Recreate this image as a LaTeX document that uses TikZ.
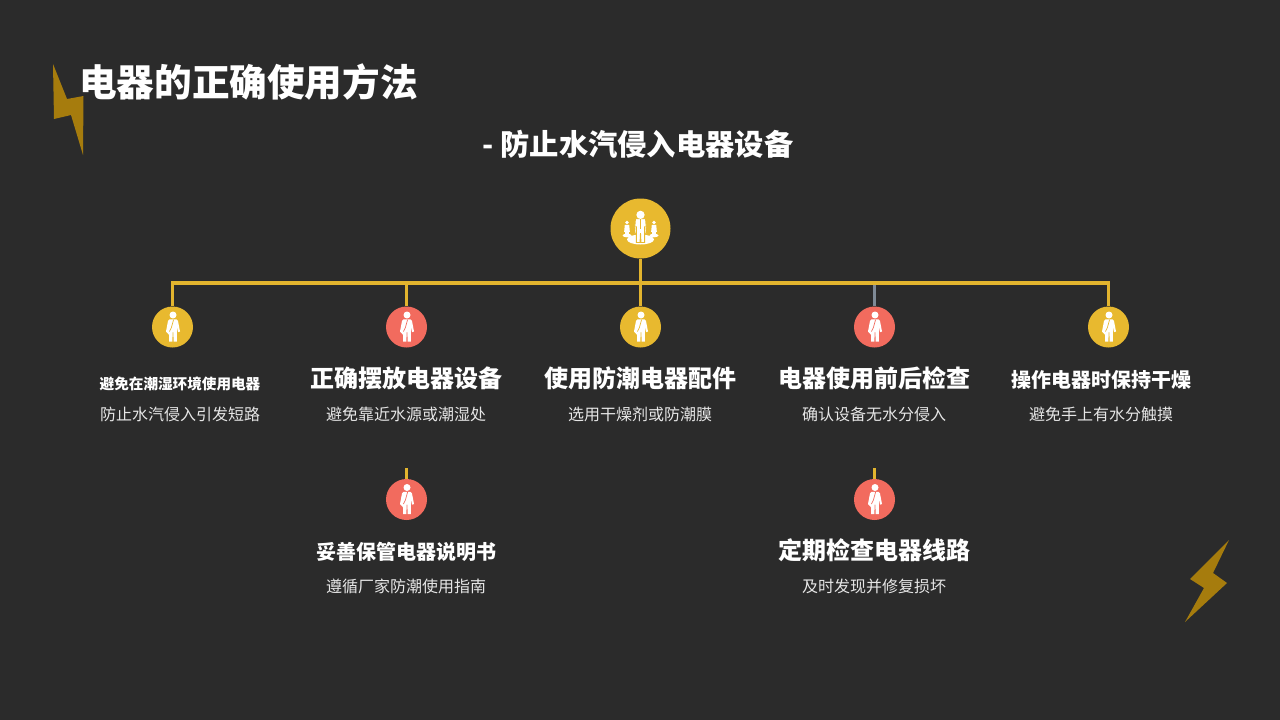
\documentclass[tikz,border=0pt]{standalone}
\usepackage{fontspec}
\setmainfont{Noto Sans CJK SC}
\definecolor{bgc}{HTML}{2B2B2B}
\definecolor{yel}{HTML}{E8B92F}
\definecolor{lin}{HTML}{E2B42E}
\definecolor{redc}{HTML}{F26B5E}
\definecolor{bolt}{HTML}{A67C0D}
\definecolor{gry}{HTML}{7F8A96}
\definecolor{txt}{HTML}{E6E6E6}
\tikzset{
  root/.style={circle,fill=yel,minimum size=60pt,inner sep=0pt},
  yelc/.style={circle,fill=yel,minimum size=41pt,inner sep=0pt},
  redcirc/.style={circle,fill=redc,minimum size=41pt,inner sep=0pt},
  conn/.style={draw=lin,line width=3.2pt},
  conng/.style={draw=gry,line width=3.2pt},
  head/.style={text=white,font=\bfseries\fontsize{24}{28}\selectfont,inner sep=0pt},
  headm/.style={text=white,font=\bfseries\fontsize{20}{24}\selectfont,inner sep=0pt},
  heads/.style={text=white,font=\bfseries\fontsize{14.6}{18}\selectfont,inner sep=0pt},
  desc/.style={text=txt,font=\fontsize{16}{20}\selectfont,inner sep=0pt},
  person/.pic={
    \fill[white] (0,-12) circle (3.5);
    \fill[white] (-3.5,-7.6) -- (3.5,-7.6) -- (5,-6) -- (7,4.5) -- (5,5.2) -- (3.8,-1) -- (3.8,14.7) -- (0.6,14.7) -- (0.4,5) -- (-0.4,5) -- (-0.6,14.7) -- (-3.8,14.7) -- (-3.8,8) -- (-7,4.5) -- (-5,-6) -- cycle;
    \draw[#1,line width=0.7pt] (0.6,-7.4) -- (-1.6,0.5) -- (-3.6,4.5);
  },
  person/.default=yel,
  smallp/.pic={
    \fill[white] (0,-11.8) circle (3.4);
    \fill[white] (-4,-7.6) -- (4,-7.6) -- (5.2,5) -- (3.4,5) -- (3.4,14) -- (-3.4,14) -- (-3.4,5) -- (-5.2,5) -- cycle;
  }
}
\begin{document}
\begin{tikzpicture}[x=1pt,y=-1pt]
\useasboundingbox (0,0) rectangle (1280,720);
\fill[bgc] (0,0) rectangle (1280,720);
% lightning bolts
\fill[bolt] (53,64) -- (67,99) -- (83.5,96) -- (83,155) -- (71,115) -- (54,119) -- cycle;
\fill[bolt] (1229,540) -- (1213,573) -- (1227,583) -- (1185,622) -- (1204,588) -- (1190,579) -- cycle;
% titles
\node[anchor=west,text=white,font=\bfseries\fontsize{37.6}{44}\selectfont,inner sep=0pt] (title) at (79,82.5) {电器的正确使用方法};
\node[text=white,font=\bfseries\fontsize{29.3}{36}\selectfont,inner sep=0pt] (subtitle) at (638,144) {- 防止水汽侵入电器设备};
% nodes
\node[root] (r) at (640.5,228.5) {};
\node[yelc] (a) at (172.5,327) {};
\node[redcirc] (b) at (406.5,327) {};
\node[yelc] (c) at (640.5,327) {};
\node[redcirc] (d) at (874.5,327) {};
\node[yelc] (e) at (1108.5,327) {};
\node[redcirc] (f) at (406.5,499.5) {};
\node[redcirc] (g) at (874.5,499.5) {};
% connectors
\coordinate (bl) at (172.5,283);
\coordinate (br) at (1108.5,283);
\coordinate (bb) at (406.5,283);
\coordinate (bc) at (640.5,283);
\coordinate (bd) at (874.5,283);
\coordinate (fs) at (406.5,468);
\coordinate (gs) at (874.5,468);
\draw[conng] (bd) -- (d.north);
\draw[conn] (r.south) -- (c.north);
\draw[conn] (b.north) -- (bb);
\draw[conn,line join=miter] (a.north) -- (bl) -- (br) -- (e.north);
\draw[conn] (fs) -- (f.north);
\draw[conn] (gs) -- (g.north);
% icons
\pic at (173,327) {person=yel};
\pic at (407,327) {person=redc};
\pic at (641,327) {person=yel};
\pic at (875,327) {person=redc};
\pic at (1109,327) {person=yel};
\pic at (407,499.5) {person=redc};
\pic at (875,499.5) {person=redc};
% root icon
\fill[white] (640.5,239.5) ellipse (13.5 and 5);
\fill[white] (627,235.5) ellipse (4.5 and 1.8);
\fill[white] (654,235.5) ellipse (4.5 and 1.8);
\pic[scale=0.55] at (627,229) {smallp};
\pic[scale=0.55] at (654,229) {smallp};
\begin{scope}[shift={(640.5,227.5)},scale=1.15]
\draw[yel,line width=0.9pt,fill=white] (-4.4,-7.6) -- (4.4,-7.6) -- (5.4,5) -- (3.8,5) -- (3.6,-1) -- (3.6,13) -- (0.4,13) -- (0,5) -- (-0.4,13) -- (-3.6,13) -- (-3.6,-1) -- (-3.8,5) -- (-5.4,5) -- cycle;
\fill[white] (0,-11) circle (3.6);
\draw[yel,line width=0.8pt] (0,-7.4) -- (0,1);
\end{scope}
% labels
\node[heads] (a1) at (180,384) {避免在潮湿环境使用电器};
\node[desc] (a2) at (180,414) {防止水汽侵入引发短路};
\node[head] (b1) at (406,378) {正确摆放电器设备};
\node[desc] (b2) at (406,414) {避免靠近水源或潮湿处};
\node[head] (c1) at (640,378) {使用防潮电器配件};
\node[desc] (c2) at (640,414) {选用干燥剂或防潮膜};
\node[head] (d1) at (874,378) {电器使用前后检查};
\node[desc] (d2) at (874,414) {确认设备无水分侵入};
\node[headm] (e1) at (1101,380) {操作电器时保持干燥};
\node[desc] (e2) at (1101,414) {避免手上有水分触摸};
\node[headm] (f1) at (406,552) {妥善保管电器说明书};
\node[desc] (f2) at (406,586) {遵循厂家防潮使用指南};
\node[head] (g1) at (874,550) {定期检查电器线路};
\node[desc] (g2) at (874,586) {及时发现并修复损坏};
\end{tikzpicture}
\end{document}
